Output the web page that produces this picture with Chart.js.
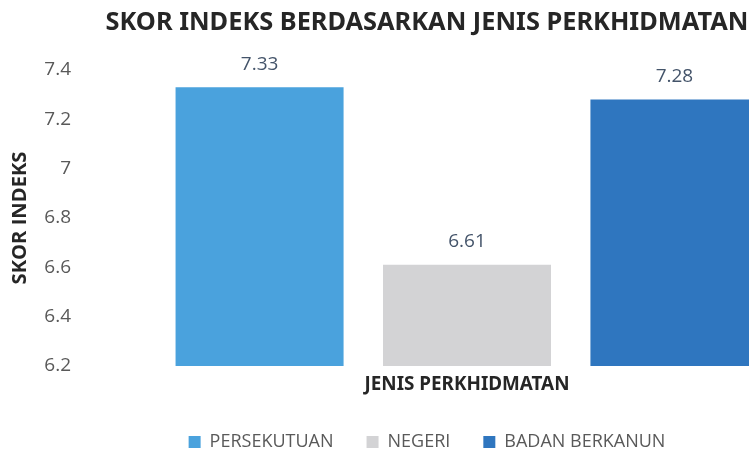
<!DOCTYPE html>
<html>
<head>
<meta charset="utf-8">
<script src="https://cdn.jsdelivr.net/npm/chart.js@4.4.1/dist/chart.umd.min.js"></script>
<style>
  html, body { margin: 0; padding: 0; overflow: hidden; background: #fff; }
  #wrap { width: 856px; height: 461px; }
</style>
</head>
<body>
<div id="wrap"><canvas id="chart" width="856" height="461"></canvas></div>
<script>
// data
const categories = [""];
const seriesNames = ["PERSEKUTUAN", "NEGERI", "BADAN BERKANUN"];
const persekutuan = [7.33];
const negeri = [6.61];
const badanBerkanun = [7.28];
const yTicks = [6.2, 6.4, 6.6, 6.8, 7, 7.2, 7.4];

const titleText = "SKOR INDEKS BERDASARKAN JENIS PERKHIDMATAN";
const xTitle = "JENIS PERKHIDMATAN";
const yTitle = "SKOR INDEKS";
const body = "'Open Sans', sans-serif";

// the original uses a narrow bold face (Calibri); take the narrowest one we have
const boldFaces = [
  { weight: "bold condensed", family: "'Noto Sans'" },
  { weight: "bold", family: "'DejaVu Sans Condensed'" },
  { weight: "bold", family: "'Liberation Sans Narrow'" },
  { weight: "bold", family: "'Open Sans'" },
];
const probe = document.createElement("canvas").getContext("2d");
function fitBold(text, targetWidth) {
  let best = null;
  boldFaces.forEach(function (f) {
    probe.font = f.weight + " 100px " + f.family;
    const size = 100 * targetWidth / probe.measureText(text).width;
    if (!best || size > best.size) best = { family: f.family, weight: f.weight, size: size };
  });
  return best;
}
const titleFont = fitBold(titleText, 643);
const xTitleFont = fitBold(xTitle, 205);
const yTitleFont = fitBold(yTitle, 133);

// value labels above each bar
const valueLabels = {
  id: "valueLabels",
  afterDatasetsDraw(chart) {
    const ctx = chart.ctx;
    ctx.save();
    ctx.font = "19px " + body;
    ctx.fillStyle = "#44546a";
    ctx.textAlign = "center";
    ctx.textBaseline = "middle";
    chart.data.datasets.forEach(function (ds, i) {
      chart.getDatasetMeta(i).data.forEach(function (bar, j) {
        ctx.fillText(ds.data[j].toFixed(2), bar.x, bar.y - 23);
      });
    });
    ctx.restore();
  },
};

const titleLine = titleFont.size * 1.2;

new Chart(document.getElementById("chart"), {
  type: "bar",
  data: {
    labels: categories,
    datasets: [
      { label: seriesNames[0], data: persekutuan, backgroundColor: "#4aa2dd" },
      { label: seriesNames[1], data: negeri, backgroundColor: "#d3d3d5" },
      { label: seriesNames[2], data: badanBerkanun, backgroundColor: "#2f76bf" },
    ],
  },
  options: {
    responsive: false,
    animation: false,
    layout: { padding: { left: 0, right: 2, top: 0, bottom: 0 } },
    datasets: { bar: { categoryPercentage: 0.804, barPercentage: 0.81 } },
    plugins: {
      tooltip: { enabled: false },
      title: {
        display: true,
        text: titleText,
        color: "#262626",
        font: titleFont,
        padding: { top: 23 - titleLine / 2, bottom: 70 - 23 - titleLine / 2 },
      },
      legend: {
        position: "bottom",
        labels: {
          boxWidth: 12,
          boxHeight: 12,
          padding: 33,
          color: "#595959",
          font: { family: body, size: 18 },
        },
      },
    },
    scales: {
      x: {
        grid: { display: false, drawTicks: false },
        border: { display: false },
        ticks: { display: false },
        title: {
          display: true,
          text: xTitle,
          color: "#262626",
          font: xTitleFont,
          padding: { top: 0, bottom: 15 - xTitleFont.size * 0.6 },
        },
        afterFit(s) { s.height = 34; },
      },
      y: {
        min: 6.2,
        max: 7.4,
        grid: { display: false, drawTicks: false },
        border: { display: false },
        afterBuildTicks(s) { s.ticks = yTicks.map(function (v) { return { value: v }; }); },
        ticks: {
          padding: 9,
          color: "#595959",
          font: { family: body, size: 19 },
          callback: function (v) { return String(Number(v.toFixed(1))); },
        },
        title: {
          display: true,
          text: yTitle,
          color: "#262626",
          font: yTitleFont,
          padding: { top: 20 - yTitleFont.size * 0.6, bottom: 0 },
        },
        afterFit(s) { s.width = 80; },
      },
    },
  },
  plugins: [valueLabels],
});
</script>
</body>
</html>
